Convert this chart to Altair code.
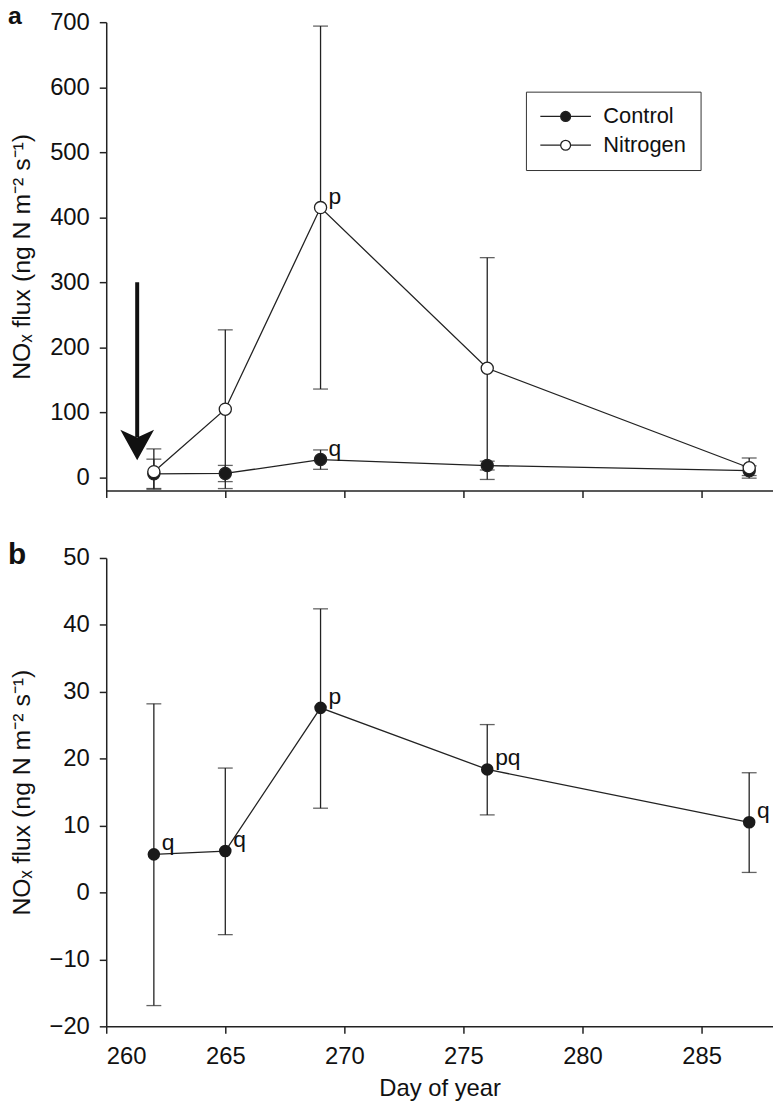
import altair as alt
import pandas as pd

# ---------------- data ----------------
days = [262, 265, 269, 276, 287]
series_names = ["Control", "Nitrogen"]

control_mean = [5.7, 6.2, 27.6, 18.4, 10.5]
control_low = [-16.9, -6.3, 12.6, 11.6, 3.0]
control_high = [28.2, 18.6, 42.4, 25.1, 17.9]

nitrogen_mean = [9, 105, 415, 168, 15]
nitrogen_low = [-18, -17, 136, -3, -1]
nitrogen_high = [44, 227, 694, 338, 30]

letters_a_control = ["", "", "q", "", ""]
letters_a_nitrogen = ["", "", "p", "", ""]
letters_b = ["q", "q", "p", "pq", "q"]

arrow_day = [261.3]
arrow_from = [300]
arrow_to = [62]
arrow_head = [50]

panel_letters = ["a", "b"]

x_ticks = [260, 265, 270, 275, 280, 285]
y_ticks_a = [0, 100, 200, 300, 400, 500, 600, 700]
y_ticks_b = [-20, -10, 0, 10, 20, 30, 40, 50]

# ---------------- tables ----------------
df_a = pd.concat([
    pd.DataFrame({"day": days, "mean": control_mean, "low": control_low,
                  "high": control_high, "series": "Control", "letter": letters_a_control}),
    pd.DataFrame({"day": days, "mean": nitrogen_mean, "low": nitrogen_low,
                  "high": nitrogen_high, "series": "Nitrogen", "letter": letters_a_nitrogen}),
], ignore_index=True)

df_b = pd.DataFrame({"day": days, "mean": control_mean, "low": control_low,
                     "high": control_high, "letter": letters_b})

df_arrow = pd.DataFrame({"day": arrow_day, "top": arrow_from, "bottom": arrow_to, "head": arrow_head})

# ---------------- styling ----------------
FONT = "Liberation Sans"
INK = "#222222"
W, H = 672, 472
Y_TITLE = "NOₓ flux (ng N m⁻² s⁻¹)"
LEGEND_SYMBOL = ("M-4.25,0H-0.83M0.83,0H4.25"
                 "M0.83,0A0.83,0.83,0,1,1,-0.83,0A0.83,0.83,0,1,1,0.83,0Z")
ARROW_HEAD = "M0,0.9L-1,-0.9L0,-0.45L1,-0.9Z"

x_scale = alt.Scale(domain=[260, 288], nice=False, zero=False)


def make_panel(df, y_domain, y_ticks, show_x_labels, letter, has_series):
    y_scale = alt.Scale(domain=y_domain, nice=False, zero=False)
    y_axis = alt.Axis(values=y_ticks, title=Y_TITLE, titlePadding=15, labelPadding=10,
                      titleFontSize=25)
    if show_x_labels:
        x_axis = alt.Axis(values=x_ticks, title="Day of year", format="d",
                          labelPadding=11, titlePadding=9)
    else:
        x_axis = alt.Axis(values=x_ticks, labels=False, title=None)

    X = alt.X("day:Q", scale=x_scale, axis=x_axis)

    def Y(field):
        return alt.Y(f"{field}:Q", scale=y_scale, axis=y_axis)

    base = alt.Chart(df)
    line_enc = dict(x=X, y=Y("mean"))
    if has_series:
        line_enc["detail"] = "series:N"
    lines = base.mark_line(color=INK, strokeWidth=1.3).encode(**line_enc)
    rules = base.mark_rule(color=INK, strokeWidth=1.3).encode(x=X, y=Y("low"), y2="high:Q")
    cap_lo = base.mark_tick(orient="horizontal", size=15, thickness=1.3, color=INK).encode(x=X, y=Y("low"))
    cap_hi = base.mark_tick(orient="horizontal", size=15, thickness=1.3, color=INK).encode(x=X, y=Y("high"))

    if has_series:
        fill = alt.Fill(
            "series:N",
            scale=alt.Scale(domain=series_names, range=["#1a1a1a", "#ffffff"]),
            legend=alt.Legend(
                title=None, orient="none", legendX=423, legendY=70, direction="vertical",
                symbolType=LEGEND_SYMBOL, symbolSize=144, symbolStrokeWidth=1.3,
                symbolStrokeColor=INK, symbolOffset=15, labelOffset=27,
                labelFont=FONT, labelFontSize=22, labelColor="#111111",
                strokeColor="#333333", fillColor="white", padding=14, rowPadding=7,
            ),
        )
        points = base.mark_point(filled=True, size=150, stroke=INK, strokeWidth=1.3,
                                 opacity=1).encode(x=X, y=Y("mean"), fill=fill)
    else:
        points = base.mark_point(filled=True, size=160, color="#1a1a1a",
                                 opacity=1).encode(x=X, y=Y("mean"))

    labels = base.transform_filter("datum.letter != ''").mark_text(
        align="left", baseline="alphabetic", dx=8, dy=-4, font=FONT, fontSize=23, color="#111111"
    ).encode(x=X, y=Y("mean"), text="letter:N")

    tag_size = 25 if letter == "a" else 30
    tag_y = 2 if letter == "a" else 6
    panel_tag = alt.Chart(pd.DataFrame({"tag": [letter]})).mark_text(
        align="left", baseline="alphabetic", font=FONT, fontSize=tag_size, fontWeight="bold",
        color="#111111"
    ).encode(x=alt.value(-99), y=alt.value(tag_y), text="tag:N")

    layers = [lines, rules, cap_lo, cap_hi, points, labels, panel_tag]

    if has_series:
        arrow_base = alt.Chart(df_arrow)
        shaft = arrow_base.mark_rule(color="#111111", strokeWidth=4).encode(
            x=X, y=Y("top"), y2="bottom:Q")
        head = arrow_base.mark_point(shape=ARROW_HEAD, size=1156, filled=True,
                                     color="#111111", opacity=1).encode(x=X, y=Y("head"))
        layers = [shaft, head] + layers

    return alt.layer(*layers).properties(width=W, height=H)


top = make_panel(df_a, [-20, 700], y_ticks_a, False, panel_letters[0], True)
bottom = make_panel(df_b, [-20, 50], y_ticks_b, True, panel_letters[1], False)

chart = alt.vconcat(top, bottom, spacing=42).properties(
    padding={"top": -8, "left": 0, "right": 0, "bottom": 0}
).configure_view(
    stroke=None
).configure_axis(
    grid=False,
    domainColor=INK, domainWidth=1.5,
    tickColor=INK, tickWidth=1.5, tickSize=7,
    labelFont=FONT, labelFontSize=24, labelColor="#111111",
    titleFont=FONT, titleFontSize=24, titleFontWeight="normal", titleColor="#111111",
).configure_legend(labelFont=FONT)

chart.save("out.html", embed_options={"renderer": "svg", "actions": False})
